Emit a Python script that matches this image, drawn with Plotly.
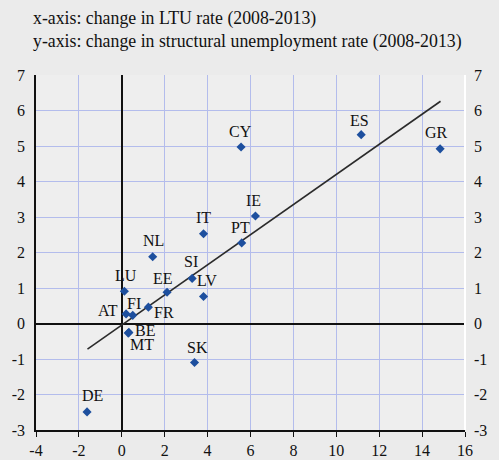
import plotly.graph_objects as go

countries = ["DE", "LU", "AT", "FI", "BE", "MT", "FR", "EE", "NL", "SI", "LV", "SK",
             "IT", "PT", "IE", "CY", "ES", "GR"]
ltu_change = [-1.62, 0.12, 0.20, 0.51, 0.33, 0.30, 1.24, 2.11, 1.44, 3.28, 3.81, 3.39,
              3.81, 5.59, 6.23, 5.56, 11.16, 14.84]
struct_change = [-2.49, 0.91, 0.27, 0.23, -0.25, -0.27, 0.46, 0.88, 1.88, 1.27, 0.76, -1.10,
                 2.53, 2.27, 3.03, 4.97, 5.32, 4.92]
trend_x = [-1.6, 14.86]
trend_y = [-0.72, 6.26]
x_ticks = list(range(-4, 17, 2))
y_ticks = list(range(-3, 8))

# label offsets in pixels (dx, dy up)
label_offsets = {
    "DE": (5, 16), "LU": (2, 16), "AT": (-18, 3), "FI": (1, 12), "BE": (16, 2),
    "MT": (14, -11), "FR": (16, -5), "EE": (-4, 14), "NL": (1, 16), "SI": (-1, 17),
    "LV": (3, 16), "SK": (3, 15), "IT": (0, 16), "PT": (-1, 15), "IE": (-2, 15),
    "CY": (-1, 16), "ES": (-2, 14), "GR": (-4, 16),
}

serif = "Liberation Serif, Times New Roman, serif"
grid_col = "#b3bcec"
tick_font = dict(family=serif, size=16, color="#111")

def lbl(v):
    return str(v)  # plain hyphen minus, as in the reference

fig = go.Figure()
fig.add_trace(go.Scatter(x=trend_x, y=trend_y, mode="lines",
                         line=dict(color="#2b2b2b", width=1.6), hoverinfo="skip",
                         showlegend=False))
fig.add_trace(go.Scatter(x=ltu_change, y=struct_change, mode="markers",
                         marker=dict(symbol="diamond", size=7, color="#1d4f9e"),
                         text=countries, showlegend=False))

for c, x, y in zip(countries, ltu_change, struct_change):
    dx, dy = label_offsets[c]
    fig.add_annotation(x=x, y=y, xref="x", yref="y", text=c, showarrow=False,
                       xshift=dx, yshift=dy, font=dict(family=serif, size=16, color="#111"))

fig.add_annotation(xref="paper", yref="paper", x=0, y=1, xanchor="left", yanchor="top",
                   xshift=-5, yshift=69, align="left", showarrow=False,
                   text="x-axis: change in LTU rate (2008-2013)<br>y-axis: change in structural unemployment rate (2008-2013)",
                   font=dict(family=serif, size=17.8, color="#111"))

# right white border
fig.add_shape(type="line", xref="paper", yref="paper", x0=1, x1=1, y0=0, y1=1,
              line=dict(color="white", width=2))

fig.update_layout(
    width=499, height=460,
    margin=dict(l=36, r=34, t=75, b=30),
    paper_bgcolor="#ebebeb", plot_bgcolor="#eeeeee",
    xaxis=dict(range=[-4, 16], tickvals=x_ticks, ticktext=[lbl(v) for v in x_ticks],
               showgrid=True, gridcolor=grid_col, automargin=False,
               gridwidth=1, zeroline=True, zerolinecolor="#111", zerolinewidth=2,
               showline=True, linecolor="#111", linewidth=1.5, ticks="outside",
               ticklen=5, tickcolor="#111", tickfont=tick_font),
    yaxis=dict(range=[-3, 7], tickvals=y_ticks, ticktext=[lbl(v) for v in y_ticks],
               showgrid=True, gridcolor=grid_col, automargin=False,
               gridwidth=1, zeroline=True, zerolinecolor="#111", zerolinewidth=1.5,
               showline=True, linecolor="#111", linewidth=1.5, ticks="",
               ticklabelstandoff=6, tickfont=tick_font),
    yaxis2=dict(range=[-3, 7], tickvals=y_ticks, ticktext=[lbl(v) for v in y_ticks],
                overlaying="y", side="right", automargin=False,
                showgrid=False, zeroline=False, showline=False, ticks="",
                ticklabelstandoff=8, tickfont=tick_font),
)
fig.add_trace(go.Scatter(x=[None], y=[None], yaxis="y2", showlegend=False, hoverinfo="skip"))

fig.write_html("out.html", config={"displayModeBar": False},
               post_script="document.body.style.margin='0';document.body.style.padding='0';"
                           "document.body.style.overflow='hidden';"
                           "document.body.style.background='#ebebeb';")
